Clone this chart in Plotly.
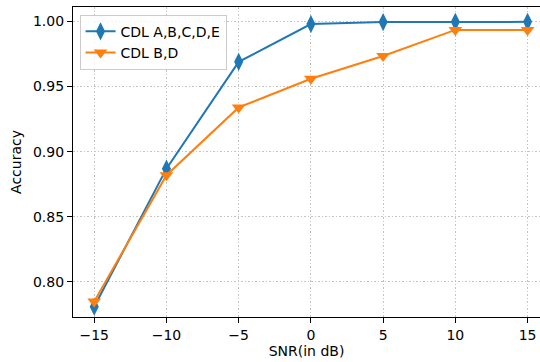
import plotly.graph_objects as go

snr = [-15, -10, -5, 0, 5, 10, 15]
acc_all = [0.781, 0.887, 0.969, 0.998, 0.9995, 0.9997, 0.9997]
acc_bd = [0.785, 0.882, 0.934, 0.956, 0.9735, 0.9935, 0.9935]
xticks = [-15, -10, -5, 0, 5, 10, 15]
xticklabels = ["\u221215", "\u221210", "\u22125", "0", "5", "10", "15"]
yticks = [0.80, 0.85, 0.90, 0.95, 1.00]

FONT = "DejaVu Sans"
FS = 14
fig = go.Figure()
fig.add_trace(go.Scatter(x=snr, y=acc_all, mode="lines+markers", name="CDL A,B,C,D,E",
                         line=dict(color="#1f77b4", width=2),
                         marker=dict(symbol="diamond-tall", size=13, color="#1f77b4")))
fig.add_trace(go.Scatter(x=snr, y=acc_bd, mode="lines+markers", name="CDL B,D",
                         line=dict(color="#ff7f0e", width=2),
                         marker=dict(symbol="triangle-down", size=12, color="#ff7f0e")))

axis_common = dict(showline=True, linecolor="black", linewidth=1.2, ticks="outside",
                   ticklen=5, tickcolor="black", tickwidth=1,
                   showgrid=True, gridcolor="#c4c4c4", griddash="1.5px,2px", gridwidth=1,
                   zeroline=False, tickfont=dict(family=FONT, size=FS, color="black"))

fig.update_layout(
    width=540, height=362,
    margin=dict(l=73, r=0, t=7, b=45),
    plot_bgcolor="white", paper_bgcolor="white",
    font=dict(family=FONT, size=FS, color="black"),
    xaxis=dict(range=[-16.47, 15.86], tickvals=xticks, ticktext=xticklabels,
               mirror=True, title=dict(text="SNR(in dB)", font=dict(family=FONT, size=FS), standoff=4),
               **axis_common),
    yaxis=dict(range=[0.7731, 1.0111], tickvals=yticks, tickformat=".2f",
               title=dict(text="Accuracy", font=dict(family=FONT, size=FS), standoff=8),
               **axis_common),
    legend=dict(x=0.014, y=0.975, xanchor="left", yanchor="top",
                bgcolor="rgba(255,255,255,0.8)", bordercolor="#cccccc", borderwidth=1,
                font=dict(family=FONT, size=FS), tracegroupgap=0, itemwidth=30),
    showlegend=True,
)

fig.write_html("out.html")
